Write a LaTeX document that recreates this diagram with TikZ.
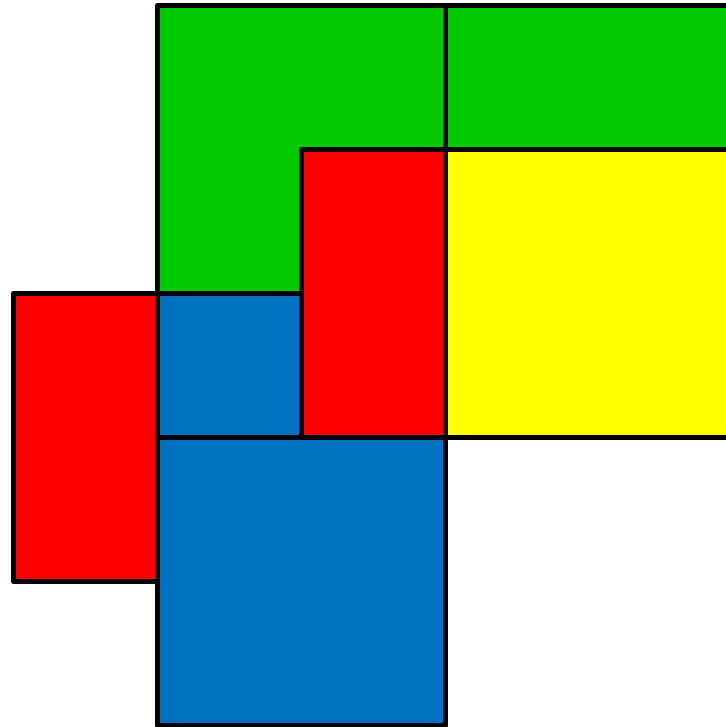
\documentclass[tikz,border=0pt]{standalone}
\definecolor{pgreen}{HTML}{00CC00}
\definecolor{pred}{HTML}{FF0000}
\definecolor{pyellow}{HTML}{FFFF00}
\definecolor{pblue}{HTML}{0070C0}
\tikzset{piece/.style={draw=black,line width=0.0347cm,line join=round}}
\begin{document}
\begin{tikzpicture}
\useasboundingbox (-0.09375,-0.0104) rectangle (4.9479,5.0382);
\begin{scope}
\clip (-0.09375,-0.0104) rectangle (4.9479,5.0382);
\fill[white] (-0.09375,-0.0104) rectangle (4.9479,5.0382);
% green L
\draw[piece,fill=pgreen] (1,5) -- (3,5) -- (3,4) -- (2,4) -- (2,3) -- (1,3) -- cycle;
% green top right
\draw[piece,fill=pgreen] (3,5) rectangle (5,4);
% yellow
\draw[piece,fill=pyellow] (3,4) rectangle (5,2);
% red middle
\draw[piece,fill=pred] (2,4) rectangle (3,2);
% blue small
\draw[piece,fill=pblue] (1,3) rectangle (2,2);
% blue big
\draw[piece,fill=pblue] (1,2) rectangle (3,0);
% red left
\draw[piece,fill=pred] (0,3) rectangle (1,1);
\end{scope}
\end{tikzpicture}
\end{document}
